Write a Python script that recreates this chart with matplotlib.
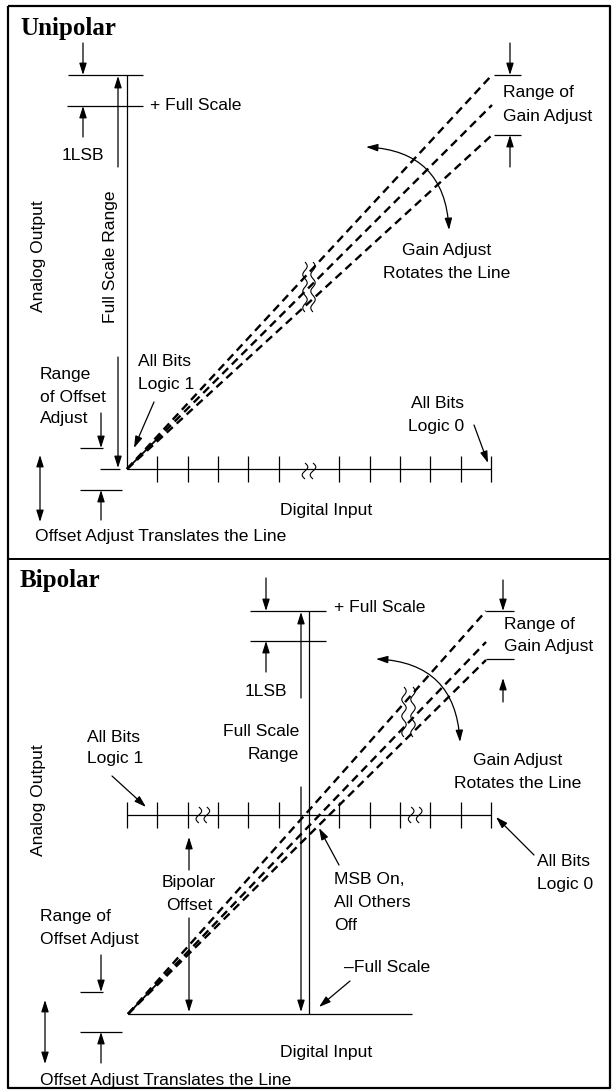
import numpy as np
import matplotlib
matplotlib.use("Agg")
import matplotlib.pyplot as plt

plt.rcParams['font.family'] = ['Liberation Sans', 'DejaVu Sans']

# ---- labels / diagram data ----
panel_titles = ["Unipolar", "Bipolar"]
n_steps = 12                     # code steps drawn along digital input axis
uni_breaks = [6]                 # step index replaced by a break mark
bip_breaks = [2.5, 9.5]
gain_lines_uni = [75, 105, 135]  # end heights of the three gain lines
gain_lines_bip = [611, 642, 660]

W, H = 612, 1090
fig = plt.figure(figsize=(W / 100, H / 100), dpi=100)
ax = fig.add_axes([0, 0, 1, 1])
ax.set_xlim(0, W)
ax.set_ylim(H, 0)
ax.axis('off')

FS = 12.6
TFS = 18


def line(xs, ys, lw=0.9, **kw):
    ax.plot(xs, ys, color='k', lw=lw, solid_capstyle='butt', **kw)


def arrow(x0, y0, x1, y1, style='-|>', conn=None):
    props = dict(arrowstyle=style + ',head_length=0.7,head_width=0.22',
                 color='k', lw=0.9, shrinkA=0, shrinkB=0)
    if conn:
        props['connectionstyle'] = conn
    ax.annotate('', xy=(x1, y1), xytext=(x0, y0), arrowprops=props,
                fontsize=10)


def texts(x, y0, lines, ha='left', step=22.5):
    for i, s in enumerate(lines):
        ax.text(x, y0 + i * step, s, fontsize=FS, ha=ha, va='center')


def squiggle(x0, ya, yb, amp=2.0, period=12.0):
    y = np.linspace(ya, yb, 80)
    x = x0 + amp * np.sin(2 * np.pi * (y - ya) / period)
    line(x, y, lw=0.8)


def axis_break(xc, yc):
    squiggle(xc - 4, yc - 8, yc + 8, amp=2.8, period=16)
    squiggle(xc + 4, yc - 8, yc + 8, amp=2.8, period=16)


def gain_lines(x0, y0, ends, xend):
    for ye in ends:
        ax.plot([x0, xend], [y0, ye], color='k', lw=1.7,
                linestyle=(0, (3.5, 2.2)), dash_capstyle='butt')
    mid = ends[1]
    t = 0.08
    line([x0, x0 + t * (xend - x0)], [y0, y0 + t * (mid - y0)], lw=1.3)


x_ax0, x_ax1 = 127, 491
step = (x_ax1 - x_ax0) / n_steps

# ---- frame ----
line([8, 610, 610, 8, 8], [6, 6, 1088, 1088, 6], lw=1.6)
line([8, 610], [559, 559], lw=1.4)

# ================= Unipolar =================
ax.text(20, 29, panel_titles[0], fontsize=TFS, fontweight='bold',
        family='Liberation Serif', ha='left', va='center')

oy = 469
line([x_ax0, x_ax0], [75, oy])
line([x_ax0, x_ax1], [oy, oy])
for k in range(1, n_steps + 1):
    if k in uni_breaks:
        continue
    x = x_ax0 + k * step
    line([x, x], [oy - 13, oy + 13])
for b in uni_breaks:
    axis_break(x_ax0 + b * step, oy + 2)

line([68, 143], [75, 75])
line([67, 143], [106, 106])
arrow(83, 43, 83, 75)
arrow(83, 137, 83, 106)
ax.text(150, 106, "+ Full Scale", fontsize=FS, ha='left', va='center')
ax.text(83, 155, "1LSB", fontsize=FS, ha='center', va='center')

arrow(118, 167, 118, 76)
arrow(118, 357, 118, 468)
ax.text(110, 257, "Full Scale Range", fontsize=FS, rotation=90,
        ha='center', va='center')
ax.text(39, 256, "Analog Output", fontsize=FS, rotation=90,
        ha='center', va='center')

gain_lines(x_ax0, oy, gain_lines_uni, 492)
squiggle(305, 262, 312, amp=2.2, period=16.7)
squiggle(313, 262, 312, amp=2.2, period=16.7)

line([494, 521], [75, 75])
line([494, 521], [135, 135])
arrow(510, 43, 510, 75)
arrow(510, 167, 510, 135)
texts(503, 93, ["Range of", "Gain Adjust"], step=24)

arrow(366, 147, 449, 230, style='<|-|>', conn='arc3,rad=-0.45')
texts(447, 250, ["Gain Adjust", "Rotates the Line"], ha='center', step=23)

texts(138, 362, ["All Bits", "Logic 1"], step=23)
arrow(154, 402, 134, 448)

texts(40, 375, ["Range", "of Offset", "Adjust"], step=22)
line([80, 103], [448, 448])
line([100, 120], [469, 469])
line([80, 122], [490, 490])
arrow(101, 413, 101, 448)
arrow(101, 520, 101, 490)
arrow(40, 455, 40, 522, style='<|-|>')

texts(464, 404, ["All Bits", "Logic 0"], ha='right', step=23)
arrow(474, 425, 488, 463)

ax.text(326, 510, "Digital Input", fontsize=FS, ha='center', va='center')
ax.text(35, 537, "Offset Adjust Translates the Line", fontsize=FS,
        ha='left', va='center')

# ================= Bipolar =================
ax.text(20, 580, panel_titles[1], fontsize=TFS, fontweight='bold',
        family='Liberation Serif', ha='left', va='center')

my = 815
by = 1014
cx = x_ax0 + 6 * step
line([cx, cx], [611, by])
line([x_ax0, x_ax1], [my, my])
line([128, 412], [by, by])
for k in range(0, n_steps + 1):
    if k == 6:
        continue
    x = x_ax0 + k * step
    line([x, x], [my - 13, my + 13])
for b in bip_breaks:
    axis_break(x_ax0 + b * step, my)

line([250, 326], [611, 611])
line([250, 326], [641, 641])
arrow(266, 578, 266, 611)
arrow(266, 672, 266, 641)
ax.text(334, 607, "+ Full Scale", fontsize=FS, ha='left', va='center')
ax.text(266, 691, "1LSB", fontsize=FS, ha='center', va='center')

arrow(301, 698, 301, 612)
arrow(301, 787, 301, 1012)
texts(299, 732, ["Full Scale", "Range"], ha='right')
ax.text(38, 800, "Analog Output", fontsize=FS, rotation=90,
        ha='center', va='center')

gain_lines(128, by, gain_lines_bip, 486)
squiggle(404, 687, 737, amp=2.2, period=16.7)
squiggle(413, 687, 737, amp=2.2, period=16.7)

line([486, 514], [611, 611])
line([486, 514], [659, 659])
arrow(503, 580, 503, 611)
arrow(503, 702, 503, 678)
texts(504, 624, ["Range of", "Gain Adjust"], step=23)

arrow(376, 659, 460, 742, style='<|-|>', conn='arc3,rad=-0.45')
texts(518, 761, ["Gain Adjust", "Rotates the Line"], ha='center', step=22)

texts(87, 737, ["All Bits", "Logic 1"], step=21.5)
arrow(112, 776, 146, 807)

texts(334, 880, ["MSB On,", "All Others", "Off"])
arrow(339, 865, 319, 828)

texts(537, 862, ["All Bits", "Logic 0"])
arrow(534, 855, 496, 817)

ax.text(344, 967, "\u2013Full Scale", fontsize=FS, ha='left', va='center')
arrow(350, 981, 319, 1007)

texts(189, 883, ["Bipolar", "Offset"], ha='center', step=22)
arrow(189, 870, 189, 837)
arrow(189, 918, 189, 1012)

texts(40, 917, ["Range of", "Offset Adjust"])
line([80, 103], [992, 992])
line([80, 122], [1032, 1032])
arrow(101, 955, 101, 992)
arrow(101, 1063, 101, 1032)
arrow(45, 1000, 45, 1064, style='<|-|>')

ax.text(326, 1053, "Digital Input", fontsize=FS, ha='center', va='center')
ax.text(40, 1080, "Offset Adjust Translates the Line", fontsize=FS,
        ha='left', va='center')

fig.savefig("out.png", dpi=100)
